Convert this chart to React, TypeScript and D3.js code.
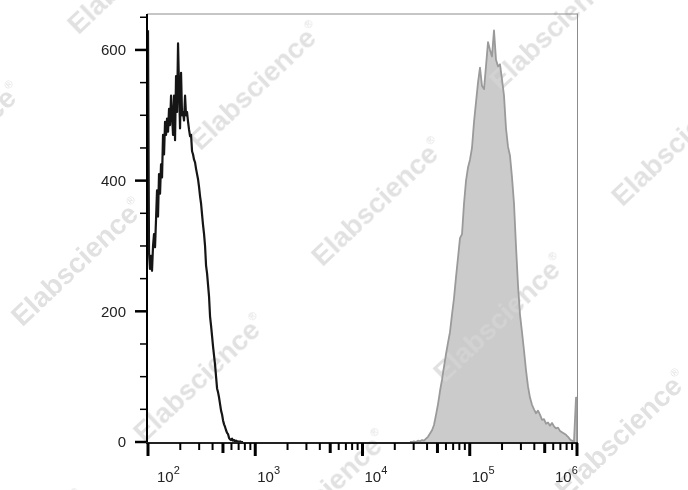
import React from "react";
import * as d3 from "d3";

// [fluorescence intensity, events]
const unstainedHistogram: [number, number][] = [
  [100, 630], [102.2, 290], [104.4, 265], [106.7, 285], [109, 262], [111.4, 300],
  [113.8, 318], [116.3, 298], [118.8, 340], [121.4, 385], [124, 345], [126.7, 410],
  [129.5, 380], [132.3, 425], [135.2, 405], [138.1, 470], [141.1, 440], [144.2, 490],
  [147.3, 470], [150.5, 495], [153.8, 475], [157.1, 510], [160.5, 485], [164, 530],
  [167.6, 500], [171.2, 470], [174.9, 530], [178.7, 462], [182.6, 560], [186.6, 505],
  [190.6, 610], [194.8, 540], [199, 480], [203.3, 565], [207.7, 500], [212.2, 505],
  [216.8, 492], [221.5, 530], [226.3, 500], [231.2, 505], [236.3, 490], [241.4, 478],
  [246.6, 468], [252, 470], [257.5, 445], [263.1, 440], [268.8, 432], [274.6, 428],
  [280.6, 418], [286.7, 410], [292.9, 402], [299.3, 390], [305.8, 376], [312.4, 365],
  [319.2, 348], [326.1, 332], [333.2, 318], [340.4, 300], [347.8, 270], [355.4, 258],
  [363.1, 240], [371, 222], [379, 192], [387.2, 178], [395.7, 162], [404.2, 146],
  [413, 132], [422, 118], [431.1, 100], [440.5, 82], [450, 76], [459.8, 68],
  [469.8, 58], [480, 48], [490.4, 42], [501, 33], [511.9, 27], [523, 23],
  [534.4, 18], [546, 14], [557.8, 12], [570, 6], [582.3, 4], [595, 3],
  [607.9, 5], [621.1, 2], [634.5, 3], [648.3, 1], [662.4, 2], [676.8, 1],
  [691.5, 1], [706.5, 0], [721.8, 1], [737.5, 0], [753.5, 0], [769.9, 0],
];

const stainedHistogram: [number, number][] = [
  [27700, 0], [28900, 0], [30200, 1], [31500, 0], [32900, 2], [34400, 1],
  [35900, 3], [37500, 2], [39100, 5], [40800, 8], [42600, 13], [44500, 18],
  [46400, 26], [48500, 42], [50600, 58], [52800, 78], [55100, 95], [57500, 115],
  [60100, 135], [62700, 152], [65400, 168], [68300, 195], [71300, 220], [74400, 252],
  [77700, 282], [81100, 312], [84700, 318], [88400, 365], [92300, 400], [96300, 420],
  [100500, 432], [104900, 450], [109600, 490], [114400, 520], [119400, 550], [124600, 573],
  [130100, 545], [135800, 540], [141700, 575], [148000, 612], [154500, 600], [161200, 590],
  [168300, 630], [175700, 585], [183400, 575], [191400, 578], [199800, 555], [208600, 530],
  [217800, 480], [227300, 452], [237300, 438], [247700, 405], [258600, 365], [269900, 300],
  [281800, 240], [294100, 195], [307000, 168], [320500, 140], [334500, 110], [349200, 85],
  [364500, 68], [380500, 57], [397200, 50], [414700, 44], [432900, 48], [451800, 42],
  [471700, 34], [492400, 35], [514000, 28], [536500, 30], [560000, 25], [584600, 29],
  [610300, 24], [637000, 21], [665000, 22], [694200, 17], [724600, 15], [756400, 13],
  [789600, 11], [824200, 8], [860400, 4], [898100, 2], [937500, 1], [978700, 68],
  [1000000, 68],
];

const yMajorTicks = [0, 200, 400, 600];
const xDecades = [1e2, 1e3, 1e4, 1e5, 1e6];
const xExponents = ["2", "3", "4", "5", "6"];
const watermark = "Elabscience";

const W = 688;
const H = 490;
const left = 148;
const right = 577;
const top = 14;
const bottom = 442;
const font = "Arial, 'Liberation Sans', sans-serif";

const x = d3.scaleLog().domain([1e2, 1e6]).range([left, right]);
const y = d3.scaleLinear().domain([0, 655]).range([bottom, top]);

const line = d3
  .line<[number, number]>()
  .x((d) => x(d[0]))
  .y((d) => y(d[1]));

const area = d3
  .area<[number, number]>()
  .x((d) => x(d[0]))
  .y0(y(0))
  .y1((d) => y(d[1]));

const mantissa = (t: number) => Math.round(t / Math.pow(10, Math.floor(Math.log10(t) + 1e-9)));

// watermark lattice
const wmOrigin = [262, 93];
const wmA = [122, 116];
const wmB = [-178, 176];
const wmSpots: [number, number][] = [];
for (let i = -2; i <= 4; i++) {
  for (let j = -2; j <= 2; j++) {
    const px = wmOrigin[0] + i * wmA[0] + j * wmB[0];
    const py = wmOrigin[1] + i * wmA[1] + j * wmB[1];
    if (px > -110 && px < W + 110 && py > -90 && py < H + 90) wmSpots.push([px, py]);
  }
}

export default function App() {
  const xTicks = x.ticks();
  const yMinor = d3.range(0, 651, 50).filter((v) => !yMajorTicks.includes(v));

  return (
    <svg
      width={W}
      height={H}
      style={{ position: "absolute", left: 0, top: 0, background: "#fff" }}
    >
      <rect width={W} height={H} fill="#fff" />

      {/* stained population */}
      <path d={area(stainedHistogram) as string} fill="#cbcbcb" />

      {/* watermark */}
      <g fill="#d6d6d6" opacity={0.72} fontFamily={font} fontWeight="bold" fontSize={28}>
        {wmSpots.map(([px, py], i) => (
          <text
            key={i}
            x={0}
            y={0}
            textAnchor="middle"
            transform={`translate(${px},${py}) rotate(-43.5)`}
          >
            {watermark}
            <tspan fontSize={11} fontWeight="normal" dy={-14}>
              ®
            </tspan>
          </text>
        ))}
      </g>

      <path
        d={line(stainedHistogram) as string}
        fill="none"
        stroke="#9a9a9a"
        strokeWidth={1.8}
        strokeLinejoin="round"
      />
      <line x1={x(1e6)} x2={x(1e6)} y1={y(68)} y2={y(0)} stroke="#9a9a9a" strokeWidth={1.8} />

      {/* unstained control */}
      <path
        d={line(unstainedHistogram) as string}
        fill="none"
        stroke="#151515"
        strokeWidth={2.2}
        strokeLinejoin="round"
      />

      {/* frame */}
      <line x1={left - 1} x2={right + 1} y1={top} y2={top} stroke="#8c8c8c" strokeWidth={1} />
      <line x1={right + 0.5} x2={right + 0.5} y1={top} y2={bottom + 1} stroke="#8c8c8c" strokeWidth={1} />

      {/* y axis */}
      <line x1={left - 1} x2={left - 1} y1={top} y2={bottom + 2} stroke="#000" strokeWidth={2} />
      {yMinor.map((v) => (
        <line key={v} x1={left - 8} x2={left - 1} y1={y(v)} y2={y(v)} stroke="#000" strokeWidth={1.5} />
      ))}
      {yMajorTicks.map((v) => (
        <g key={v}>
          <line x1={left - 13} x2={left - 1} y1={y(v)} y2={y(v)} stroke="#000" strokeWidth={2.5} />
          <text
            x={126}
            y={y(v)}
            dy="0.35em"
            textAnchor="end"
            fontFamily={font}
            fontSize={15}
            fill="#222"
          >
            {v}
          </text>
        </g>
      ))}

      {/* x axis */}
      <line x1={left - 2} x2={right + 1} y1={bottom + 1} y2={bottom + 1} stroke="#222" strokeWidth={2} />
      {xTicks.map((t, i) => {
        const m = mantissa(t);
        const len = m === 1 ? 13 : m === 5 ? 10 : 7;
        const w = m === 1 || m === 5 ? 3 : 2;
        return (
          <line key={i} x1={x(t)} x2={x(t)} y1={bottom + 1} y2={bottom + 1 + len} stroke="#000" strokeWidth={w} />
        );
      })}
      {xDecades.map((d, i) => {
        const lx = Math.min(Math.max(x(d) + 2, 157), 555);
        return (
          <text key={d} x={lx} y={482} fontFamily={font} fontSize={15} fill="#222">
            10
            <tspan fontSize={11} dy={-8}>
              {xExponents[i]}
            </tspan>
          </text>
        );
      })}
    </svg>
  );
}
